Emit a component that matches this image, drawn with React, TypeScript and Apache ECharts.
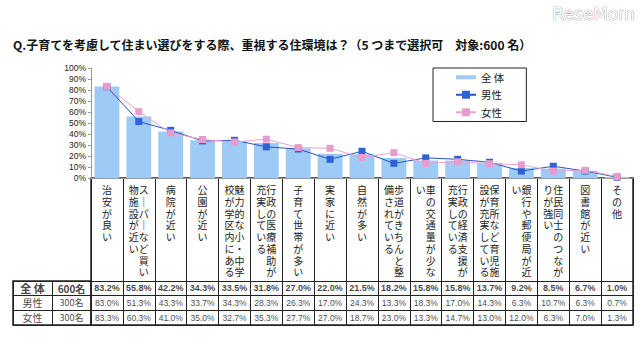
import React, { useEffect, useRef } from "react";
import * as echarts from "echarts";

const titleText = "Q.子育てを考慮して住まい選びをする際、重視する住環境は？（5 つまで選択可　対象:600 名）";
const categories = [
  "治安が良い",
  "スーパーなど買い物施設が近い",
  "病院が近い",
  "公園が近い",
  "魅力的な小・中学校が学区内にある",
  "行政の医療補助が充実している",
  "子育て世帯が多い",
  "実家に近い",
  "自然が多い",
  "歩道がきちんと整備されている",
  "車の交通量が少ない",
  "行政の経済支援が充実している",
  "保育所など育児施設が充実している",
  "銀行や郵便局が近い",
  "住民同士のつながりが強い",
  "図書館が近い",
  "その他",
];
const totalValues = [83.2, 55.8, 42.2, 34.3, 33.5, 31.8, 27.0, 22.0, 21.5, 18.2, 15.8, 15.8, 13.7, 9.2, 8.5, 6.7, 1.0];
const maleValues = [83.0, 51.3, 43.3, 33.7, 34.3, 28.3, 26.3, 17.0, 24.3, 13.3, 18.3, 17.0, 14.3, 6.3, 10.7, 6.3, 0.7];
const femaleValues = [83.3, 60.3, 41.0, 35.0, 32.7, 35.3, 27.7, 27.0, 18.7, 23.0, 13.3, 14.7, 13.0, 12.0, 6.3, 7.0, 1.3];
const seriesNames = ["全 体", "男性", "女性"];
const rowCounts = ["600名", "300名", "300名"];

const CJK = "'Noto Sans CJK JP', 'Noto Sans', sans-serif";
const NUM = "'Liberation Sans Narrow', 'Liberation Sans', Arial, sans-serif";

function verticalLabel(s: string): string {
  const chars = Array.from(s.replace(/ー/g, "｜"));
  const cols: string[][] = [];
  for (let i = 0; i < chars.length; i += 8) cols.push(chars.slice(i, i + 8));
  const rows = Math.max(...cols.map((c) => c.length));
  const lines: string[] = [];
  for (let r = 0; r < rows; r++) {
    let line = "";
    for (let c = cols.length - 1; c >= 0; c--) line += cols[c][r] ?? "　";
    lines.push(line);
  }
  return lines.join("\n");
}

export default function App() {
  const ref = useRef<HTMLDivElement>(null);
  useEffect(() => {
    if (!ref.current) return;
    const chart = echarts.init(ref.current, undefined, { renderer: "svg" });
    const tableTop = 178;
    const tableH = 147;
    const rowKeys = Array.from({ length: 10 }, (_, i) => "r" + i);
    const cellSeries = (rowIdx: number, values: number[], bold: boolean) => ({
      type: "scatter",
      xAxisIndex: 1,
      yAxisIndex: 1,
      silent: true,
      symbolSize: 1,
      itemStyle: { color: "transparent" },
      data: values.map((v, i) => [i, 7 + rowIdx, v]),
      label: {
        show: true,
        position: "inside",
        formatter: (p: any) => p.value[2].toFixed(1) + "%",
        fontSize: bold ? 9 : 8.5,
        fontWeight: bold ? "bold" : "normal",
        color: "#111",
        fontFamily: NUM,
      },
    });
    const headerData: any[] = [];
    seriesNames.forEach((h, i) => {
      headerData.push({ value: [0, i, h], label: { fontWeight: i === 0 ? "bold" : "normal", fontSize: i === 0 ? 11 : 10 } });
      headerData.push({ value: [1, i, rowCounts[i]], label: { fontWeight: i === 0 ? "bold" : "normal", fontSize: i === 0 ? 10 : 9 } });
    });
    chart.setOption({
      animation: false,
      backgroundColor: "#fff",
      title: {
        text: titleText,
        left: 8,
        top: 33,
        textStyle: { fontSize: 12, fontWeight: "bold", color: "#111", fontFamily: CJK },
      },
      graphic: [
        {
          type: "text",
          left: 552,
          top: 5,
          style: { text: "ReseMom", fontSize: 17, fill: "#fff", stroke: "#8a8a8a", lineWidth: 0.7, fontFamily: "'DejaVu Sans', sans-serif" },
        },
      ],
      legend: {
        data: [{ name: seriesNames[0], icon: "path://M0,0H20V4H0Z" }, seriesNames[1], seriesNames[2]],
        orient: "vertical",
        left: 433,
        top: 68,
        itemWidth: 20,
        itemHeight: 10,
        itemGap: 7,
        padding: [4, 22, 4, 22],
        borderColor: "#222",
        borderWidth: 1,
        backgroundColor: "#fff",
        textStyle: { fontSize: 10.5, color: "#222", fontFamily: CJK },
      },
      grid: [
        { left: 91, top: 68, width: 542, height: 110 },
        { left: 91, top: tableTop, width: 542, height: tableH, show: true, borderColor: "#222", borderWidth: 1.5 },
        { left: 13, top: tableTop + tableH * 0.7, width: 78, height: tableH * 0.3, show: true, borderColor: "#222", borderWidth: 1.5 },
      ],
      xAxis: [
        {
          gridIndex: 0,
          type: "category",
          data: categories,
          axisLine: { lineStyle: { color: "#999" } },
          axisTick: { show: false },
          axisLabel: {
            interval: 0,
            hideOverlap: false,
            formatter: verticalLabel,
            fontSize: 10,
            lineHeight: 11.7,
            color: "#222",
            margin: 6,
            fontFamily: CJK,
          },
        },
        {
          gridIndex: 1,
          type: "category",
          data: categories,
          axisLine: { show: false },
          axisTick: { show: false },
          axisLabel: { show: false },
          splitLine: { show: true, interval: 0, lineStyle: { color: "#222", width: 1 } },
        },
        {
          gridIndex: 2,
          type: "category",
          data: ["h", "n"],
          axisLine: { show: false },
          axisTick: { show: false },
          axisLabel: { show: false },
          splitLine: { show: true, interval: 0, lineStyle: { color: "#222", width: 1 } },
        },
      ],
      yAxis: [
        {
          gridIndex: 0,
          type: "value",
          min: 0,
          max: 100,
          interval: 10,
          axisLine: { show: true, lineStyle: { color: "#999" } },
          axisTick: { show: true, length: 3, lineStyle: { color: "#999" } },
          axisLabel: { formatter: "{value}%", fontSize: 8.5, margin: 5, color: "#222", fontFamily: NUM },
          splitLine: { show: false },
        },
        {
          gridIndex: 1,
          type: "category",
          inverse: true,
          data: rowKeys,
          axisLine: { show: false },
          axisTick: { show: false },
          axisLabel: { show: false },
          splitLine: { show: true, interval: (i: number) => i >= 7, lineStyle: { color: "#222", width: 1 } },
        },
        {
          gridIndex: 2,
          type: "category",
          inverse: true,
          data: ["a", "b", "c"],
          axisLine: { show: false },
          axisTick: { show: false },
          axisLabel: { show: false },
          splitLine: { show: true, interval: 0, lineStyle: { color: "#222", width: 1 } },
        },
      ],
      series: [
        {
          type: "bar",
          name: seriesNames[0],
          xAxisIndex: 0,
          yAxisIndex: 0,
          data: totalValues,
          barCategoryGap: "22%",
          itemStyle: { color: "#9ecbf5" },
        },
        {
          type: "line",
          name: seriesNames[1],
          xAxisIndex: 0,
          yAxisIndex: 0,
          data: maleValues,
          symbol: "rect",
          symbolSize: 7,
          lineStyle: { color: "#2a52c0", width: 1 },
          itemStyle: { color: "#2f62d8" },
        },
        {
          type: "line",
          name: seriesNames[2],
          xAxisIndex: 0,
          yAxisIndex: 0,
          data: femaleValues,
          symbol: "rect",
          symbolSize: 7,
          lineStyle: { color: "#e9a3cf", width: 1 },
          itemStyle: { color: "#e99ccb" },
        },
        cellSeries(0, totalValues, true),
        cellSeries(1, maleValues, false),
        cellSeries(2, femaleValues, false),
        {
          type: "scatter",
          xAxisIndex: 2,
          yAxisIndex: 2,
          silent: true,
          symbolSize: 1,
          itemStyle: { color: "transparent" },
          data: headerData,
          label: {
            show: true,
            position: "inside",
            formatter: (p: any) => p.value[2],
            color: "#111",
            fontFamily: CJK,
          },
        },
      ],
    });
    return () => chart.dispose();
  }, []);
  return <div ref={ref} style={{ position: "fixed", left: 0, top: 0, width: 640, height: 339 }} />;
}
